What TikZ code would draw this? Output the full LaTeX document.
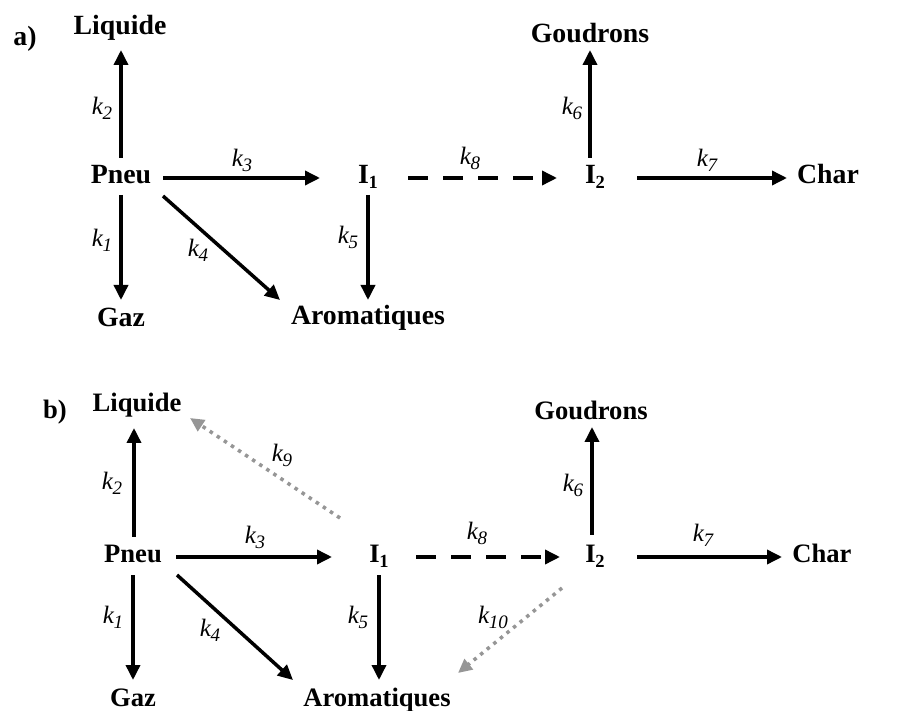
\documentclass[tikz,border=0pt]{standalone}
\usepackage{fontspec}
\setmainfont{Liberation Serif}
\usetikzlibrary{arrows.meta}
\newcommand{\ksub}[1]{\textit{k}\kern-0.5pt\raisebox{-5pt}{\fontsize{19}{19}\selectfont\itshape #1}}
\newcommand{\Isub}[1]{I\kern-0.5pt\raisebox{-5pt}{\fontsize{18.5}{18.5}\selectfont\bfseries #1}}
\begin{document}
\begin{tikzpicture}[x=1pt,y=-1pt,
  ta/.style={font=\fontsize{27.8}{30}\selectfont\bfseries, inner sep=0pt, anchor=mid,
    execute at begin node={\lower3pt\hbox\bgroup}, execute at end node={\egroup}},
  tb/.style={ta, font=\fontsize{26.6}{29}\selectfont\bfseries},
  kl/.style={font=\fontsize{25}{27}\selectfont, inner sep=0pt},
  arr/.style={line width=3.5pt, -{Triangle[length=15pt,width=14pt]}},
  dasharr/.style={arr, dash pattern=on 20pt off 15pt},
  dotarr/.style={line width=3.5pt, draw={rgb,255:red,150;green,150;blue,150}, dash pattern=on 3.5pt off 5pt, -{Triangle[length=14pt,width=13pt]}}
]
\useasboundingbox (0,0) rectangle (898,711);
% ---------- a) ----------
\node[ta] (labA) at (25,40) {a)};
\node[ta] (liqA) at (120,29) {Liquide};
\node[ta] (pneuA) at (121,178) {Pneu};
\node[ta] (i1A) at (368,178) {\Isub{1}};
\node[ta] (i2A) at (595,178) {\Isub{2}};
\node[ta] (charA) at (828,178) {Char};
\node[ta] (gouA) at (590,37) {Goudrons};
\node[ta] (gazA) at (121,321) {Gaz};
\node[ta] (aroA) at (368,319) {Aromatiques};

\draw[arr] ([shift={(0,-20)}]pneuA.mid) -- ([shift={(1,21)}]liqA.mid);
\draw[arr, shorten <=17pt, shorten >=21pt] (pneuA.mid) -- (gazA.mid);
\draw[arr, shorten <=42pt, shorten >=48pt] (pneuA.mid) -- (i1A.mid);
\draw[arr] ([shift={(42,18)}]pneuA.mid) -- ([shift={(-88,-19)}]aroA.mid);
\draw[arr, shorten <=17pt, shorten >=19pt] (i1A.mid) -- (aroA.mid);
\draw[dasharr, shorten <=40pt, shorten >=38pt] (i1A.mid) -- (i2A.mid);
\draw[arr] ([shift={(-5,-20)}]i2A.mid) -- ([shift={(0,13)}]gouA.mid);
\draw[arr, shorten <=42pt, shorten >=41pt] (i2A.mid) -- (charA.mid);

\node[kl] (k2A) at (102,108) {\ksub{2}};
\node[kl] (k1A) at (102,240) {\ksub{1}};
\node[kl] (k3A) at (242,160) {\ksub{3}};
\node[kl] (k4A) at (198,250) {\ksub{4}};
\node[kl] (k5A) at (348,237) {\ksub{5}};
\node[kl] (k8A) at (470,158) {\ksub{8}};
\node[kl] (k6A) at (572,108) {\ksub{6}};
\node[kl] (k7A) at (707,160) {\ksub{7}};

% ---------- b) ----------
\node[tb] (labB) at (55,413) {b)};
\node[tb] (liqB) at (137,406) {Liquide};
\node[tb] (pneuB) at (133,557) {Pneu};
\node[tb] (i1B) at (379,557) {\Isub{1}};
\node[tb] (i2B) at (595,557) {\Isub{2}};
\node[tb] (charB) at (822,557) {Char};
\node[tb] (gouB) at (591,414) {Goudrons};
\node[tb] (gazB) at (133,701) {Gaz};
\node[tb] (aroB) at (377,701) {Aromatiques};

\draw[arr] ([shift={(1,-20)}]pneuB.mid) -- ([shift={(-3,22)}]liqB.mid);
\draw[arr, shorten <=18pt, shorten >=21pt] (pneuB.mid) -- (gazB.mid);
\draw[arr, shorten <=43pt, shorten >=47pt] (pneuB.mid) -- (i1B.mid);
\draw[arr] ([shift={(44,18)}]pneuB.mid) -- ([shift={(-84,-21)}]aroB.mid);
\draw[arr] ([shift={(0,18)}]i1B.mid) -- ([shift={(2,-21)}]aroB.mid);
\draw[dotarr] ([shift={(-39,-39)}]i1B.mid) -- ([shift={(53,12)}]liqB.mid);
\draw[dasharr, shorten <=37pt, shorten >=35pt] (i1B.mid) -- (i2B.mid);
\draw[arr] ([shift={(-3,-22)}]i2B.mid) -- ([shift={(1,13)}]gouB.mid);
\draw[arr, shorten <=42pt, shorten >=40pt] (i2B.mid) -- (charB.mid);
\draw[dotarr] ([shift={(-33,31)}]i2B.mid) -- ([shift={(81,-28)}]aroB.mid);

\node[kl] (k2B) at (112,483) {\ksub{2}};
\node[kl] (k1B) at (113,617) {\ksub{1}};
\node[kl] (k3B) at (255,537) {\ksub{3}};
\node[kl] (k4B) at (210,630) {\ksub{4}};
\node[kl] (k5B) at (358,617) {\ksub{5}};
\node[kl] (k9B) at (282,455) {\ksub{9}};
\node[kl] (k8B) at (477,533) {\ksub{8}};
\node[kl] (k6B) at (573,485) {\ksub{6}};
\node[kl] (k7B) at (703,535) {\ksub{7}};
\node[kl] (k10B) at (493,617) {\ksub{10}};
\end{tikzpicture}
\end{document}
